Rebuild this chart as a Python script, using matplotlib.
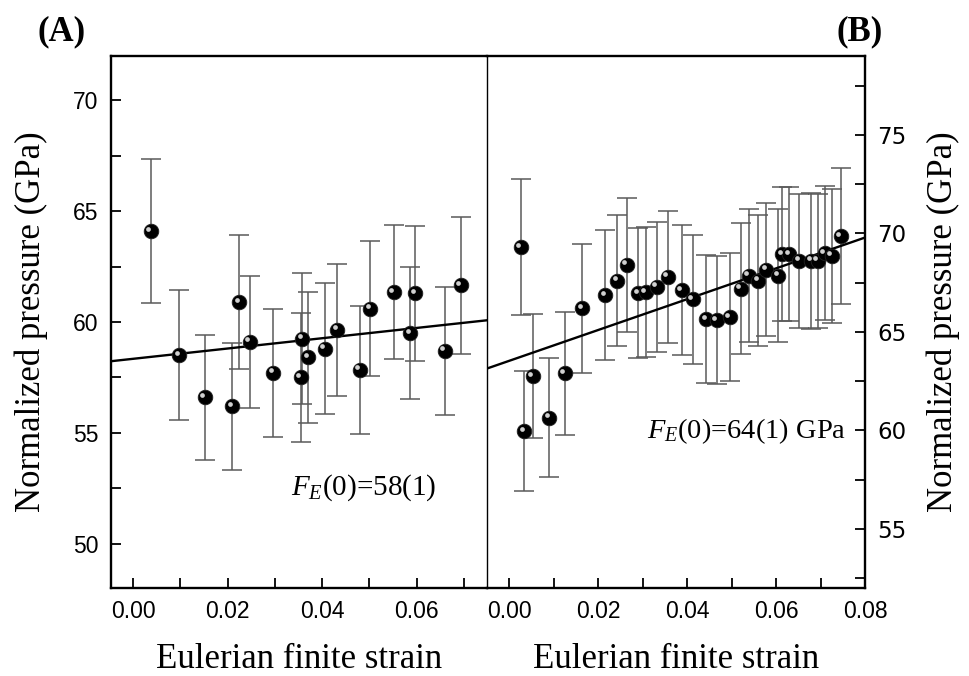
import numpy as np
import matplotlib
matplotlib.use("Agg")
import matplotlib.pyplot as plt
from matplotlib.ticker import MultipleLocator, FormatStrFormatter
from matplotlib.transforms import ScaledTranslation

plt.rcParams['mathtext.fontset'] = 'custom'
plt.rcParams['mathtext.rm'] = 'Liberation Serif'
plt.rcParams['mathtext.it'] = 'Liberation Serif:italic'

# panel A: strain, normalized pressure, error
fA = [0.0037, 0.0098, 0.0151, 0.0210, 0.0225, 0.0247, 0.0296, 0.0355, 0.0358,
      0.0371, 0.0406, 0.0432, 0.0480, 0.0502, 0.0552, 0.0586, 0.0597, 0.0660, 0.0693]
pA = [64.1, 58.5, 56.6, 56.2, 60.9, 59.1, 57.7, 57.5, 59.25,
      58.4, 58.8, 59.65, 57.85, 60.6, 61.35, 59.5, 61.3, 58.7, 61.65]
eA = [3.25, 2.93, 2.83, 2.86, 3.02, 2.96, 2.89, 2.9, 2.96,
      2.94, 2.94, 2.97, 2.89, 3.04, 3.04, 2.98, 3.04, 2.9, 3.08]
fitA = (58.34, 23.2)  # intercept, slope

# panel B
fB = [0.0026, 0.0034, 0.0053, 0.0090, 0.0125, 0.0164, 0.0216, 0.0243, 0.0264,
      0.0290, 0.0307, 0.0332, 0.0357, 0.0388, 0.0413, 0.0443, 0.0467, 0.0496,
      0.0521, 0.0539, 0.0560, 0.0578, 0.0605, 0.0614, 0.0630, 0.0652, 0.0679,
      0.0694, 0.0710, 0.0725, 0.0746]
pB = [69.3, 59.95, 62.75, 60.65, 62.9, 66.2, 66.85, 67.6, 68.4,
      66.95, 67.0, 67.3, 67.8, 67.1, 66.65, 65.65, 65.6, 65.75,
      67.2, 67.85, 67.6, 68.15, 67.85, 68.95, 68.95, 68.6, 68.6,
      68.6, 69.0, 68.85, 69.85]
eB = [3.45, 3.05, 3.14, 3.02, 3.13, 3.27, 3.3, 3.34, 3.4,
      3.3, 3.3, 3.3, 3.35, 3.3, 3.29, 3.26, 3.24, 3.24,
      3.34, 3.38, 3.34, 3.37, 3.38, 3.42, 3.4, 3.4, 3.47,
      3.42, 3.4, 3.4, 3.45]
fitB = (63.53, 78.2)

fig = plt.figure(figsize=(9.7, 6.76), dpi=100)
axA = fig.add_axes([111/970, 88/676, 376/970, 532/676])
axB = fig.add_axes([487/970, 88/676, 378/970, 532/676])
axB.patch.set_visible(False)

def draw(ax, f, p, e, fit, xlim):
    ax.errorbar(f, p, yerr=e, fmt='none', ecolor='#5a5a5a', elinewidth=1.1,
                capsize=7, capthick=1.1, zorder=2)
    xs = np.array(xlim)
    ax.plot(xs, fit[0] + fit[1]*xs, color='black', lw=1.7, zorder=3)
    ax.plot(f, p, 'o', ms=10.5, mfc='black', mec='#222222', mew=0.6, zorder=4)
    off = ax.transData + ScaledTranslation(-1.8/72, 1.8/72, fig.dpi_scale_trans)
    ax.plot(f, p, 'o', ms=3.4, mfc='#e8e8e8', mec='none', alpha=0.9,
            transform=off, zorder=5)
    ax.set_xlim(*xlim)
    ax.xaxis.set_major_locator(MultipleLocator(0.02))
    ax.xaxis.set_minor_locator(MultipleLocator(0.01))
    ax.xaxis.set_major_formatter(FormatStrFormatter('%.2f'))
    ax.yaxis.set_major_locator(MultipleLocator(5))
    ax.yaxis.set_minor_locator(MultipleLocator(2.5))
    for s in ax.spines.values():
        s.set_linewidth(1.7)
    ax.tick_params(which='both', direction='in', length=7, width=1.3,
                   labelsize=16.5, pad=9)
    for lab in ax.get_xticklabels() + ax.get_yticklabels():
        lab.set_fontfamily('Liberation Sans')
    ax.set_xlabel('Eulerian finite strain', fontsize=25,
                  fontfamily='Liberation Serif', labelpad=14)

draw(axA, fA, pA, eA, fitA, (-0.0047, 0.0749))
axA.set_ylim(48, 72)
axA.tick_params(which='both', left=True, right=False, top=False, bottom=True)
axA.spines['right'].set_linewidth(1.0)
axA.set_ylabel('Normalized pressure (GPa)', fontsize=25,
               fontfamily='Liberation Serif', labelpad=18)
axA.text(0.48, 0.175, r'$F_E$(0)=58(1)', transform=axA.transAxes,
         fontsize=21, fontfamily='Liberation Serif', va='baseline')

draw(axB, fB, pB, eB, fitB, (-0.005, 0.08))
axB.set_ylim(52, 79)
axB.spines['left'].set_visible(False)
axB.tick_params(which='both', left=False, right=True, top=False, bottom=True,
                labelleft=False, labelright=True)
axB.yaxis.set_label_position('right')
axB.set_ylabel('Normalized pressure (GPa)', fontsize=25,
               fontfamily='Liberation Serif', labelpad=14)
axB.text(0.423, 0.282, r'$F_E$(0)=64(1) GPa', transform=axB.transAxes,
         fontsize=20.5, fontfamily='Liberation Serif', va='baseline')

fig.text(62/970, 1 - 32/676, '(A)', fontsize=25, fontweight='bold',
         fontfamily='Liberation Serif', ha='center', va='center')
fig.text(860/970, 1 - 32/676, '(B)', fontsize=25, fontweight='bold',
         fontfamily='Liberation Serif', ha='center', va='center')

fig.savefig('out.png', dpi=100, facecolor='white')
